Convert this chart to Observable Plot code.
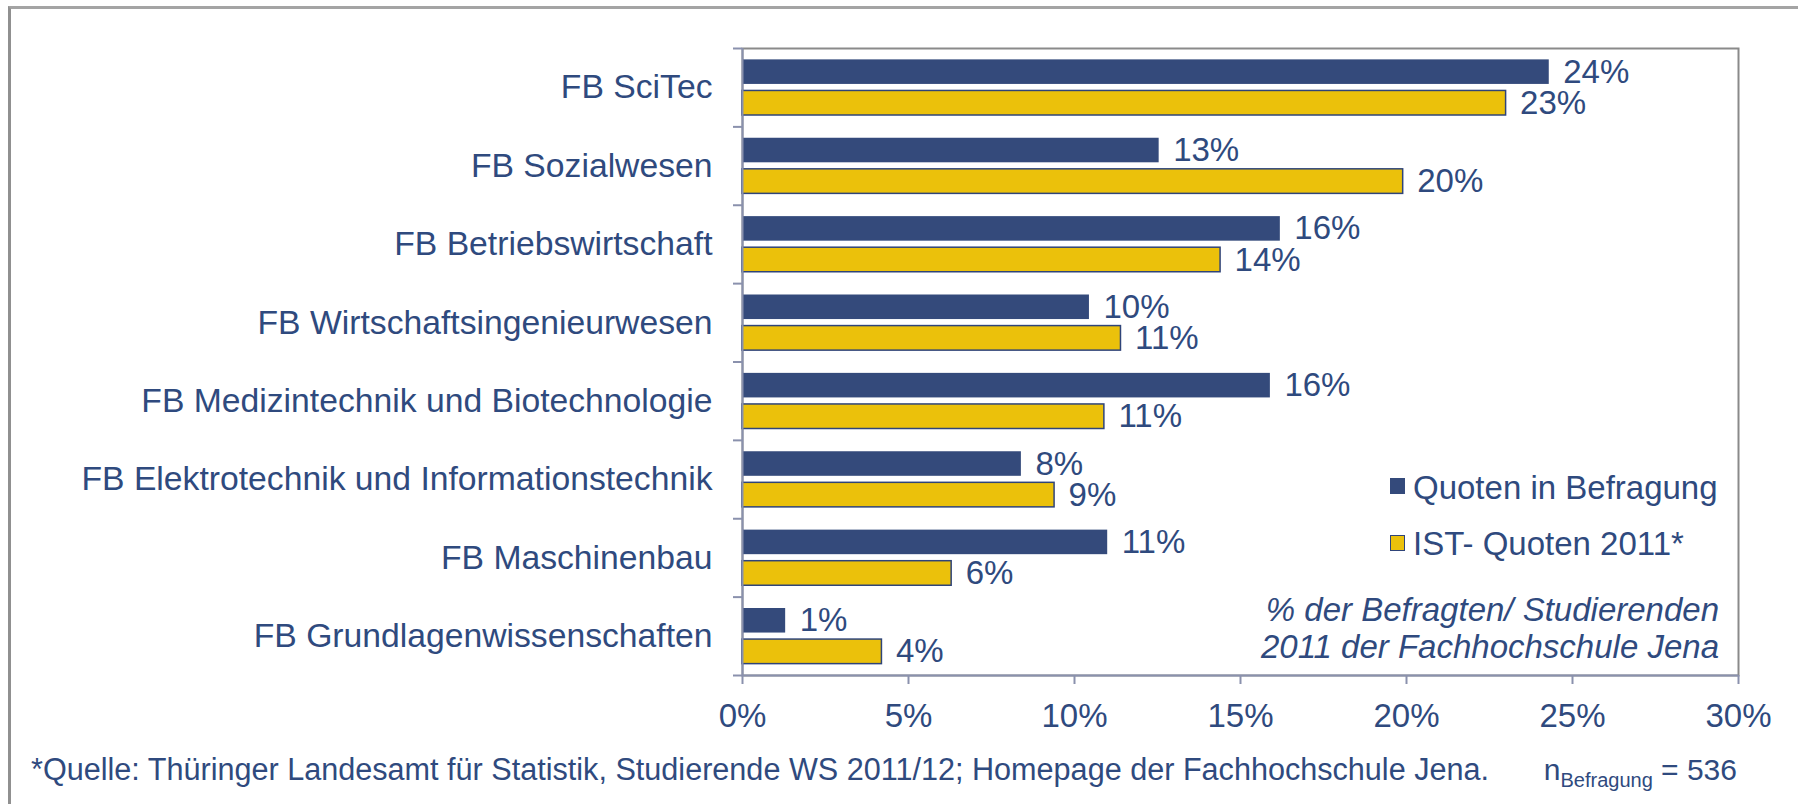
<!DOCTYPE html>
<html>
<head>
<meta charset="utf-8">
<script src="https://cdn.jsdelivr.net/npm/d3@7"></script>
<script src="https://cdn.jsdelivr.net/npm/@observablehq/plot@0.6"></script>
<style>
  html, body { margin: 0; padding: 0; background: #fff; }
  #wrap { position: relative; width: 1798px; height: 804px; overflow: hidden; font-family: "Liberation Sans", Arial, sans-serif; color: #2f4a7e; }
  .abs { position: absolute; white-space: nowrap; font-size: 33px; line-height: 33px; }
  #outer { position: absolute; left: 8px; top: 6px; width: 1800px; height: 810px; border-top: 3px solid #a4a4a4; border-left: 3px solid #909090; }
  .sq { position: absolute; width: 15px; height: 16px; }
</style>
</head>
<body>
<div id="wrap">
  <div id="chart"></div>
  <div id="outer"></div>
</div>
<script>
const categories = [
  "FB SciTec",
  "FB Sozialwesen",
  "FB Betriebswirtschaft",
  "FB Wirtschaftsingenieurwesen",
  "FB Medizintechnik und Biotechnologie",
  "FB Elektrotechnik und Informationstechnik",
  "FB Maschinenbau",
  "FB Grundlagenwissenschaften"
];
const seriesNames = ["Quoten in Befragung", "IST- Quoten 2011*"];
const quotenBefragung = [24.3, 12.55, 16.2, 10.45, 15.9, 8.4, 11.0, 1.3];
const istQuoten2011 = [23.0, 19.9, 14.4, 11.4, 10.9, 9.4, 6.3, 4.2];
const xTicks = [0, 5, 10, 15, 20, 25, 30];
const footnote = "*Quelle: Thüringer Landesamt für Statistik, Studierende WS 2011/12; Homepage der Fachhochschule Jena.";
const noteLines = ["% der Befragten/ Studierenden", "2011 der Fachhochschule Jena"];
const sampleSize = 536;

const BLUE = "#344a7b", YELLOW = "#ebc10b", TEXT = "#2f4a7e", AXIS = "#8a91ad", FRAME = "#8a8a8a";

const sub = d3.scaleBand().domain(seriesNames).range([0, 1]).paddingInner(0.21).paddingOuter(0.366);
const rows = categories.flatMap((c, i) => [
  {cat: c, i, series: seriesNames[0], value: quotenBefragung[i]},
  {cat: c, i, series: seriesNames[1], value: istQuoten2011[i]}
]);
const y1 = d => d.i + sub(d.series);
const y2 = d => d.i + sub(d.series) + sub.bandwidth();
const yc = d => d.i + sub(d.series) + sub.bandwidth() / 2;

const chart = Plot.plot({
  width: 1798,
  height: 804,
  marginTop: 48,
  marginLeft: 742,
  marginRight: 60,
  marginBottom: 129,
  style: {fontFamily: "Liberation Sans, Arial, sans-serif", background: "#fff", overflow: "visible"},
  x: {domain: [0, 30]},
  y: {domain: [0, categories.length], reverse: true},
  marks: [
    Plot.frame({stroke: FRAME, strokeWidth: 2}),
    Plot.rectX(rows.filter(d => d.series === seriesNames[0]), {x1: 0, x2: "value", y1, y2, fill: BLUE}),
    Plot.rectX(rows.filter(d => d.series === seriesNames[1]), {x1: 0, x2: "value", y1, y2, fill: YELLOW, stroke: "#2f4479", strokeWidth: 1.5}),
    Plot.text(rows, {x: "value", y: yc, text: d => Math.round(d.value) + "%", dx: 14, textAnchor: "start", fontSize: 33, fill: TEXT}),
    Plot.ruleX([0], {stroke: AXIS, strokeWidth: 2}),
    Plot.ruleY([categories.length], {stroke: AXIS, strokeWidth: 2}),
    Plot.axisX({ticks: xTicks, tickFormat: d => d + "%", tickSize: 9, tickPadding: 19, fontSize: 33, stroke: AXIS, strokeWidth: 2, fill: TEXT, label: null}),
    Plot.axisY({ticks: d3.range(0, categories.length + 1), tickSize: 9, tickFormat: () => "", stroke: AXIS, strokeWidth: 2, label: null}),
    Plot.axisY({ticks: d3.range(categories.length).map(i => i + 0.5), tickSize: 0, tickPadding: 30, tickFormat: v => categories[Math.floor(v)], fontSize: 33.7, fill: TEXT, label: null})
  ]
});
document.getElementById("chart").appendChild(chart);

const wrap = document.getElementById("wrap");
function addDiv(html, css) {
  const d = document.createElement("div");
  d.className = "abs";
  d.innerHTML = html;
  Object.assign(d.style, css);
  wrap.appendChild(d);
  return d;
}
function addSq(color, css) {
  const d = document.createElement("div");
  d.className = "sq";
  Object.assign(d.style, {background: color}, css);
  wrap.appendChild(d);
}
// legend
addSq(BLUE, {left: "1390px", top: "478px"});
addDiv(seriesNames[0], {left: "1413px", top: "471px"});
addSq(YELLOW, {left: "1390px", top: "535px", border: "1.5px solid #2f4479", width: "13px", height: "14px"});
addDiv(seriesNames[1], {left: "1413px", top: "527px"});
// note
addDiv(noteLines[0], {right: "79px", top: "593px", fontStyle: "italic"});
addDiv(noteLines[1], {right: "79px", top: "630px", fontStyle: "italic"});
// footer
addDiv(footnote, {left: "31px", top: "753px", fontSize: "30.6px"});
addDiv("n<span style=\"font-size:20px;position:relative;top:7px\">Befragung</span> = " + sampleSize, {right: "61px", top: "753px", fontSize: "30px"});
</script>
</body>
</html>
